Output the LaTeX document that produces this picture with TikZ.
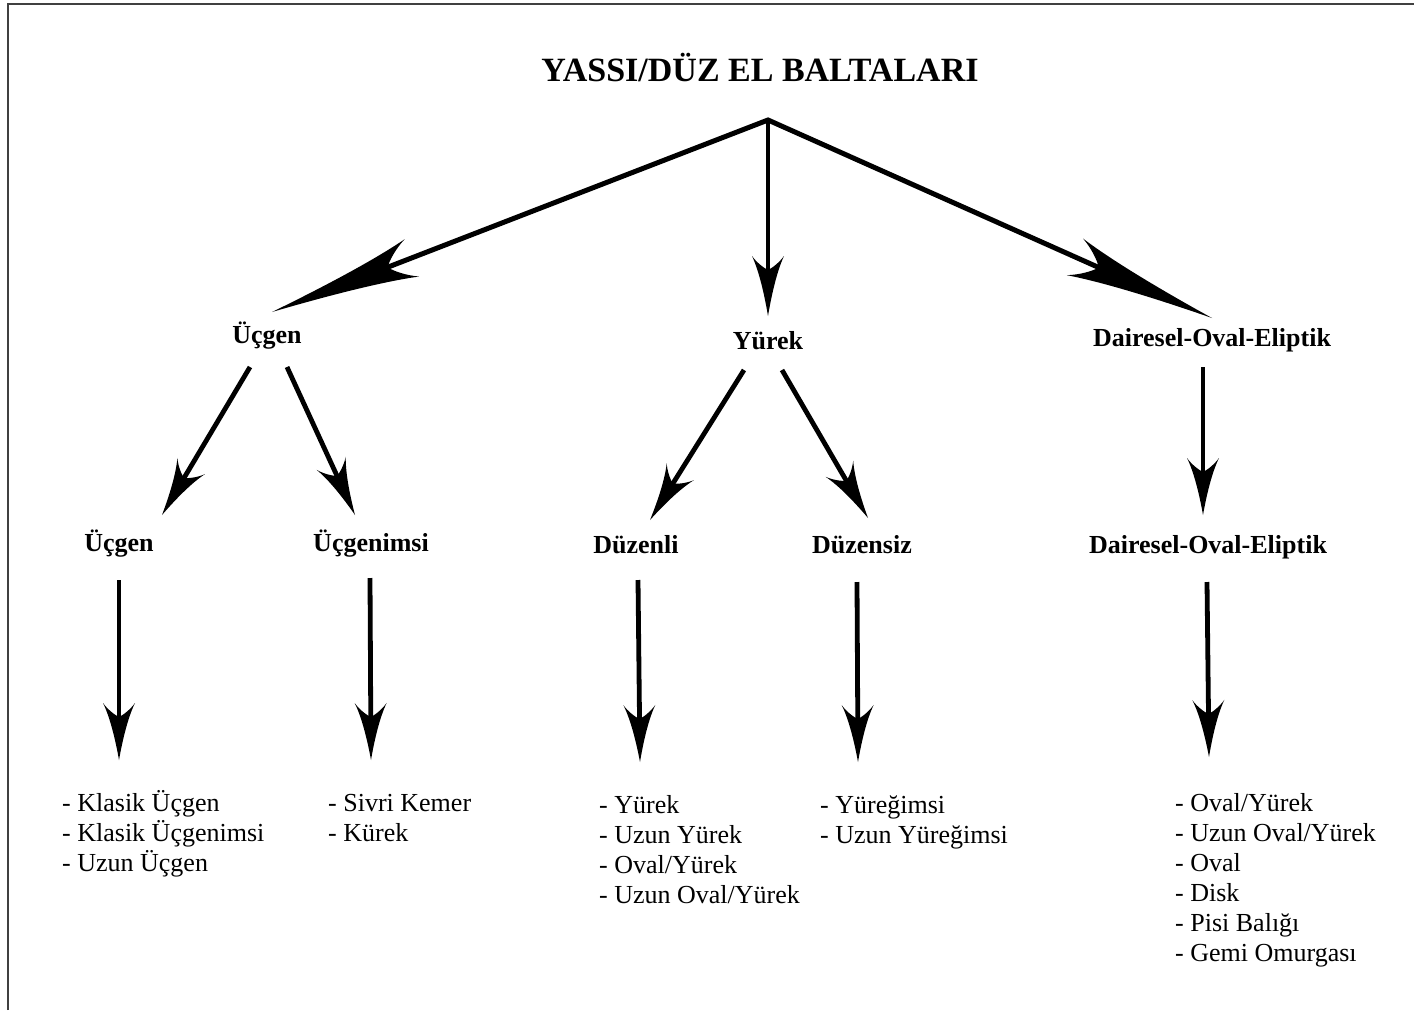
\documentclass[tikz,border=0pt]{standalone}
\usepackage{fontspec}
\setmainfont{Liberation Serif}
\usetikzlibrary{arrows.meta}
\newdimen\barbtmp
\pgfdeclarearrow{
  name = Barb,
  parameters = {\the\pgfarrowlength,\the\pgfarrowwidth,\the\pgfarrowinset},
  setup code = {
    \barbtmp=\pgfarrowinset
    \advance\barbtmp by -\pgfarrowlength
    \advance\barbtmp by 1.5pt
    \pgfarrowssettipend{0pt}
    \pgfarrowssetlineend{\barbtmp}
    \pgfarrowssetbackend{-\pgfarrowlength}
    \pgfarrowshullpoint{0pt}{0pt}
    \pgfarrowsupperhullpoint{-\pgfarrowlength}{.5\pgfarrowwidth}
    \pgfarrowssavethe\pgfarrowlength
    \pgfarrowssavethe\pgfarrowwidth
    \pgfarrowssavethe\pgfarrowinset
  },
  drawing code = {
    \pgfpathmoveto{\pgfpoint{0pt}{0pt}}
    \pgfpathcurveto{\pgfpoint{-.35\pgfarrowlength}{.11\pgfarrowwidth}}
                   {\pgfpoint{-.75\pgfarrowlength}{.28\pgfarrowwidth}}
                   {\pgfpoint{-\pgfarrowlength}{.5\pgfarrowwidth}}
    \pgfpathcurveto{\pgfpoint{-\pgfarrowlength+.45\pgfarrowinset}{.36\pgfarrowwidth}}
                   {\pgfpoint{-\pgfarrowlength+.85\pgfarrowinset}{.14\pgfarrowwidth}}
                   {\pgfpoint{-\pgfarrowlength+\pgfarrowinset}{0pt}}
    \pgfpathcurveto{\pgfpoint{-\pgfarrowlength+.85\pgfarrowinset}{-.14\pgfarrowwidth}}
                   {\pgfpoint{-\pgfarrowlength+.45\pgfarrowinset}{-.36\pgfarrowwidth}}
                   {\pgfpoint{-\pgfarrowlength}{-.5\pgfarrowwidth}}
    \pgfpathcurveto{\pgfpoint{-.75\pgfarrowlength}{-.28\pgfarrowwidth}}
                   {\pgfpoint{-.35\pgfarrowlength}{-.11\pgfarrowwidth}}
                   {\pgfpoint{0pt}{0pt}}
    \pgfpathclose
    \pgfusepathqfill
  },
  defaults = {length=12pt, width=8pt, inset=3pt}
}
\begin{document}
\begin{tikzpicture}[x=1pt,y=-1pt,
  ttl/.style={font=\bfseries\fontsize{34}{40}\selectfont, inner sep=0pt, anchor=base},
  lbl/.style={font=\bfseries\fontsize{26}{30}\selectfont, inner sep=0pt, anchor=base},
  item/.style={font=\fontsize{26}{30}\selectfont, inner sep=0pt, anchor=base west},
  conn/.style={line width=4.8pt, -{Barb[length=57pt, width=32pt, inset=14pt]}},
  bigconn/.style={line width=5pt, line join=miter,
     {Barb[length=150pt, width=40pt, inset=26pt]}-{Barb[length=150pt, width=40pt, inset=26pt]}},
  frame/.style={draw=black!75, line width=2pt}
]
\useasboundingbox (0,0) rectangle (1414,1010);
\fill[white] (0,0) rectangle (1414,1010);
\draw[frame] (8,1010) -- (8,4) -- (1414,4);

\node[ttl] (title) at (760,81) {YASSI/DÜZ EL BALTALARI};
\coordinate (apex) at (768,120);

\node[lbl] (ua) at (267,343) {Üçgen};
\node[lbl] (ya) at (768,349) {Yürek};
\node[lbl] (da) at (1212,346) {Dairesel-Oval-Eliptik};

\node[lbl] (ub) at (119,551) {Üçgen};
\node[lbl] (uc) at (371,551) {Üçgenimsi};
\node[lbl] (yb) at (636,553) {Düzenli};
\node[lbl] (yc) at (862,553) {Düzensiz};
\node[lbl] (db) at (1208,553) {Dairesel-Oval-Eliptik};

\foreach [count=\i] \t in {Klasik Üçgen, Klasik Üçgenimsi, Uzun Üçgen}
  \node[item] (ka\i) at (62,{811+30*(\i-1)}) {- \t};
\foreach [count=\i] \t in {Sivri Kemer, Kürek}
  \node[item] (kb\i) at (328,{811+30*(\i-1)}) {- \t};
\foreach [count=\i] \t in {Yürek, Uzun Yürek, Oval/Yürek, Uzun Oval/Yürek}
  \node[item] (kc\i) at (599,{813+30*(\i-1)}) {- \t};
\foreach [count=\i] \t in {Yüreğimsi, Uzun Yüreğimsi}
  \node[item] (kd\i) at (820,{813+30*(\i-1)}) {- \t};
\foreach [count=\i] \t in {Oval/Yürek, Uzun Oval/Yürek, Oval, Disk, Pisi Balığı, Gemi Omurgası}
  \node[item] (ke\i) at (1175,{811+30*(\i-1)}) {- \t};

% top level
\draw[bigconn] ([xshift=5pt,yshift=31pt]ua.base) -- (apex) -- ([yshift=28pt]da.base);
\draw[line width=4.8pt, -{Barb[length=60pt, width=32pt, inset=14pt]}] (apex) -- ([yshift=33pt]ya.base);

% second level
\draw[conn] ([xshift=-17pt,yshift=-24pt]ua.base) -- ([xshift=43pt,yshift=36pt]ub.base);
\draw[conn] ([xshift=20pt,yshift=-24pt]ua.base) -- ([xshift=-16pt,yshift=36pt]uc.base);
\draw[conn] ([xshift=-24pt,yshift=-21pt]ya.base) -- ([xshift=14pt,yshift=33pt]yb.base);
\draw[conn] ([xshift=14pt,yshift=-21pt]ya.base) -- ([xshift=6pt,yshift=35pt]yc.base);
\draw[conn] ([xshift=-9pt,yshift=-21pt]da.base) -- ([xshift=-5pt,yshift=38pt]db.base);

% third level
\draw[conn] ([yshift=-29pt]ub.base) -- ([xshift=57pt,yshift=51pt]ka1.base west);
\draw[conn] ([xshift=-1pt,yshift=-27pt]uc.base) -- ([xshift=43pt,yshift=51pt]kb1.base west);
\draw[conn] ([xshift=2pt,yshift=-27pt]yb.base) -- ([xshift=41pt,yshift=51pt]kc1.base west);
\draw[conn] ([xshift=-5pt,yshift=-29pt]yc.base) -- ([xshift=38pt,yshift=51pt]kd1.base west);
\draw[conn] ([xshift=-1pt,yshift=-29pt]db.base) -- ([xshift=34pt,yshift=54pt]ke1.base west);
\end{tikzpicture}
\end{document}
